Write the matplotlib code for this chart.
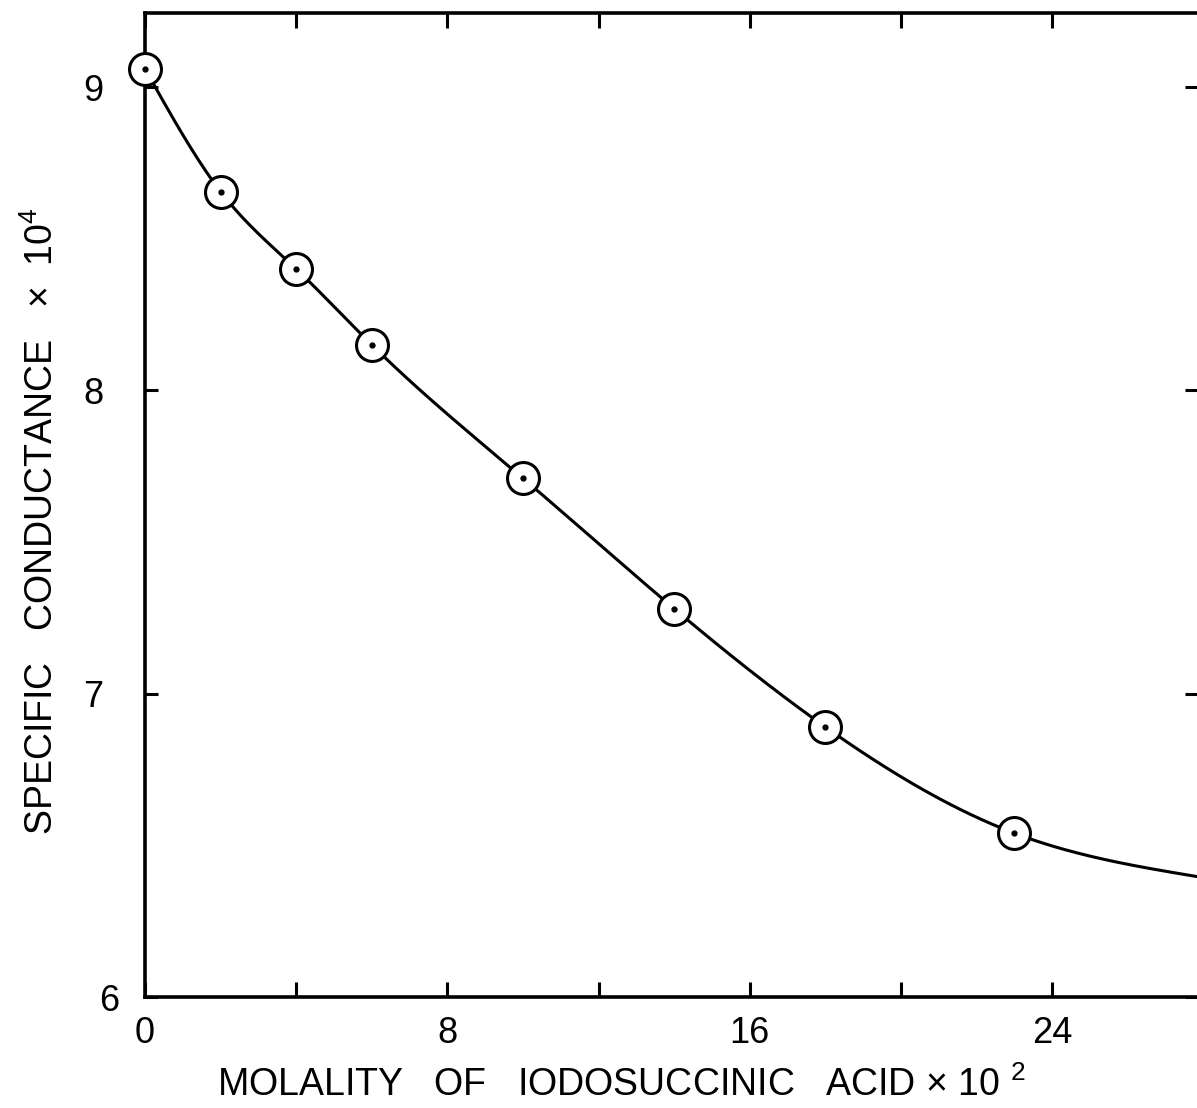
import numpy as np
import matplotlib
matplotlib.use("Agg")
import matplotlib.pyplot as plt
from matplotlib.ticker import FixedLocator, NullFormatter
from matplotlib.transforms import ScaledTranslation

plt.rcParams['font.family'] = ['Liberation Sans', 'DejaVu Sans']
plt.rcParams['mathtext.fontset'] = 'custom'
plt.rcParams['mathtext.rm'] = 'Liberation Sans'
plt.rcParams['mathtext.it'] = 'Liberation Sans'
plt.rcParams['mathtext.bf'] = 'Liberation Sans'

# data
molality = [0, 2, 4, 6, 10, 14, 18, 23]
conductance = [9.06, 8.655, 8.40, 8.15, 7.71, 7.28, 6.89, 6.54]
# smooth drawn curve continues beyond last point
curve_end_x = 27.83
curve_end_y = 6.397

x_major = [0, 8, 16, 24]
x_minor = [4, 12, 20]
y_ticks = [6, 7, 8, 9]


def natural_spline(xk, yk, xs):
    xk = np.asarray(xk, float); yk = np.asarray(yk, float)
    n = len(xk)
    h = np.diff(xk)
    A = np.zeros((n, n)); b = np.zeros(n)
    A[0, 0] = A[-1, -1] = 1
    for i in range(1, n - 1):
        A[i, i - 1] = h[i - 1]
        A[i, i] = 2 * (h[i - 1] + h[i])
        A[i, i + 1] = h[i]
        b[i] = 3 * ((yk[i + 1] - yk[i]) / h[i] - (yk[i] - yk[i - 1]) / h[i - 1])
    c = np.linalg.solve(A, b)
    out = np.empty_like(xs)
    for j, x in enumerate(xs):
        i = min(max(np.searchsorted(xk, x) - 1, 0), n - 2)
        dx = x - xk[i]
        bi = (yk[i + 1] - yk[i]) / h[i] - h[i] * (2 * c[i] + c[i + 1]) / 3
        di = (c[i + 1] - c[i]) / (3 * h[i])
        out[j] = yk[i] + bi * dx + c[i] * dx ** 2 + di * dx ** 3
    return out


W, H = 1197, 1108
fig = plt.figure(figsize=(W / 100, H / 100), dpi=100)
ax = fig.add_axes([145 / W, 1 - 997 / H, (W - 145) / W, (997 - 13) / H])

xk = molality + [curve_end_x]
yk = conductance + [curve_end_y]
xs = np.linspace(0, curve_end_x, 400)
ax.plot(xs, natural_spline(xk, yk, xs), color='black', lw=2.2, zorder=2,
        solid_capstyle='round')
ax.plot(molality, conductance, 'o', ms=23, mfc='white', mec='black', mew=2.2,
        zorder=3, clip_on=False)
ax.plot(molality, conductance, 'o', ms=3.5, color='black', zorder=4, clip_on=False)

ax.set_xlim(0, curve_end_x)
ax.set_ylim(6, 9.244)

for s in ['left', 'bottom', 'top']:
    ax.spines[s].set_linewidth(2.6)
ax.spines['right'].set_visible(False)

ax.xaxis.set_major_locator(FixedLocator(x_major))
ax.xaxis.set_minor_locator(FixedLocator(x_minor))
ax.set_xticklabels([str(v) for v in x_major])
ax.xaxis.set_minor_formatter(NullFormatter())
ax.yaxis.set_major_locator(FixedLocator(y_ticks))
ax.set_yticklabels([str(v) for v in y_ticks])

ax.tick_params(axis='x', which='both', direction='in', top=True, bottom=True,
               length=11, width=2.2, labelsize=26, pad=14)
ax.tick_params(axis='y', which='both', direction='in', left=True, right=True,
               length=9, width=2.2, labelsize=26, pad=30)

# the "6" label sits a little closer to the corner in the original
lbl6 = ax.get_yticklabels()[0]
lbl6.set_transform(lbl6.get_transform() + ScaledTranslation(0.16, 0, fig.dpi_scale_trans))

fig.text(42 / W, 1 - 521 / H,
         r'SPECIFIC   CONDUCTANCE   $\times$  10$^{4}$',
         rotation=90, ha='center', va='center', fontsize=27)
fig.text(621 / W, 1 - 1085 / H,
         r'MOLALITY   OF   IODOSUCCINIC   ACID $\times$ 10 $^{2}$',
         ha='center', va='center', fontsize=27)

fig.savefig('out.png', dpi=100, facecolor='white')
